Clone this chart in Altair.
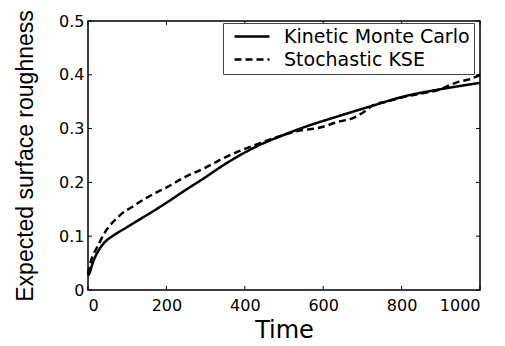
import altair as alt
import pandas as pd

# ---- data ----
series_names = ["Kinetic Monte Carlo", "Stochastic KSE"]

t_kmc = [0, 5, 10, 18, 30, 43, 60, 77, 100, 120, 163, 204, 247, 290, 354, 439, 485, 549, 634, 719, 813, 898, 1000]
v_kmc = [0.027, 0.033, 0.046, 0.061, 0.077, 0.089, 0.099, 0.107, 0.117, 0.126, 0.145, 0.164, 0.185, 0.205, 0.236,
         0.270, 0.284, 0.302, 0.322, 0.341, 0.361, 0.373, 0.385]

t_kse = [0, 3, 8, 15, 23, 43, 77, 120, 163, 204, 247, 290, 354, 439, 485, 532, 592, 640, 677, 700, 727, 766, 813,
         898, 941, 975, 1000]
v_kse = [0.030, 0.042, 0.055, 0.068, 0.079, 0.107, 0.136, 0.158, 0.177, 0.192, 0.210, 0.224, 0.248, 0.273, 0.285,
         0.295, 0.302, 0.313, 0.320, 0.329, 0.343, 0.351, 0.360, 0.373, 0.386, 0.392, 0.400]

x_ticks = [0, 200, 400, 600, 800, 1000]
y_ticks = [0, 0.1, 0.2, 0.3, 0.4, 0.5]

x_title = "Time"
y_title = "Expected surface roughness"

df = pd.concat([
    pd.DataFrame({"t": t_kmc, "v": v_kmc, "series": series_names[0]}),
    pd.DataFrame({"t": t_kse, "v": v_kse, "series": series_names[1]}),
])
xt = pd.DataFrame({"t": x_ticks})
yt = pd.DataFrame({"v": y_ticks})

W, H = 392, 269
FONT = "DejaVu Sans"
TFONT = "Liberation Sans"

xscale = alt.Scale(domain=[0, 1000], nice=False, zero=False)
yscale = alt.Scale(domain=[0, 0.5], nice=False)

xaxis = alt.Axis(values=x_ticks, format="d", title=x_title, ticks=False, domain=False, grid=False,
                 labelFontSize=16, labelPadding=7, labelColor="black", labelFont=FONT,
                 titleFontSize=24, titleFontWeight="normal", titleFont=FONT, titleColor="black",
                 titleBaseline="alphabetic", titleY=47)
yaxis = alt.Axis(values=y_ticks, labelExpr="datum.value == 0 ? '0' : format(datum.value, '.1f')",
                 title=y_title, ticks=False, domain=False, grid=False,
                 labelFontSize=16, labelPadding=4, labelColor="black", labelFont=FONT,
                 titleFontSize=23, titleFontWeight="normal", titleFont=TFONT, titleColor="black",
                 titleBaseline="alphabetic", titleAngle=-90, titleX=-56, titleAlign="center")

lines = alt.Chart(df).mark_line(color="black", strokeWidth=2.5, interpolate="monotone").encode(
    x=alt.X("t:Q", scale=xscale, axis=xaxis, title=x_title),
    y=alt.Y("v:Q", scale=yscale, axis=yaxis, title=y_title),
    strokeDash=alt.StrokeDash(
        "series:N",
        scale=alt.Scale(domain=series_names, range=[[1, 0], [7, 4]]),
        legend=alt.Legend(title=None, orient="none", legendX=135, legendY=2,
                          symbolType="stroke", symbolSize=1225, symbolStrokeWidth=2.5,
                          symbolStrokeColor="black", symbolOffset=6, clipHeight=19,
                          labelFontSize=19, labelFont=FONT,
                          labelColor="black", labelOffset=13, rowPadding=3, padding=4,
                          strokeColor="#444444", fillColor="white", labelLimit=400),
    ),
    order=alt.Order("t:Q"),
)

tick_len = 4
xt_bottom = alt.Chart(xt).mark_rule(color="black", strokeWidth=1).encode(
    x=alt.X("t:Q", scale=xscale, axis=xaxis, title=x_title), y=alt.value(H), y2=alt.value(H - tick_len))
xt_top = alt.Chart(xt).mark_rule(color="black", strokeWidth=1).encode(
    x=alt.X("t:Q", scale=xscale, axis=xaxis, title=x_title), y=alt.value(0), y2=alt.value(tick_len))
yt_left = alt.Chart(yt).mark_rule(color="black", strokeWidth=1).encode(
    y=alt.Y("v:Q", scale=yscale, axis=yaxis, title=y_title), x=alt.value(0), x2=alt.value(tick_len))
yt_right = alt.Chart(yt).mark_rule(color="black", strokeWidth=1).encode(
    y=alt.Y("v:Q", scale=yscale, axis=yaxis, title=y_title), x=alt.value(W - tick_len), x2=alt.value(W))

chart = alt.layer(lines, xt_bottom, xt_top, yt_left, yt_right).properties(
    width=W, height=H,
    autosize=alt.AutoSizeParams(type="none"),
    padding={"left": 88, "top": 21, "right": 25, "bottom": 56},
    background="white",
).configure_view(stroke="black", strokeWidth=1.5)

chart.save("out.html", embed_options={"renderer": "svg", "actions": False})
